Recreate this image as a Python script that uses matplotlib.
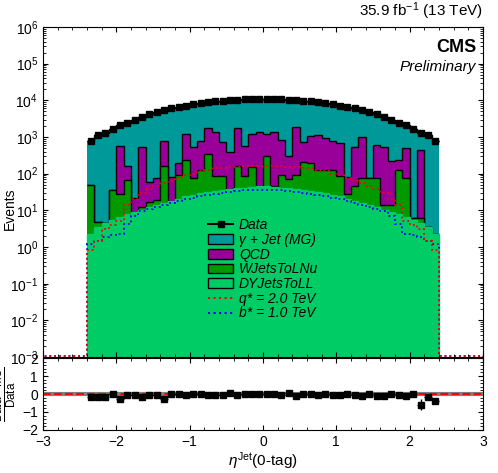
import numpy as np
from matplotlib import pyplot as plt
from matplotlib.patches import Patch
from matplotlib.lines import Line2D

plt.rcParams['font.family'] = ['Liberation Sans', 'DejaVu Sans']
plt.rcParams['mathtext.fontset'] = 'custom'
plt.rcParams['mathtext.rm'] = 'Liberation Sans'
plt.rcParams['mathtext.it'] = 'Liberation Sans:italic'

edges = np.round(np.arange(-2.4, 2.41, 0.1), 2)
centers = 0.5 * (edges[1:] + edges[:-1])

half_data = [800, 1100, 1300, 1700, 2100, 2450, 2950, 3550, 4150, 4800, 5400, 6000,
             6600, 7200, 7800, 8300, 8900, 9300, 9800, 10200, 10500, 10700, 11000, 11000]
data = np.array(half_data + half_data[::-1], dtype=float)

half_dy = [2.3, 3.5, 4.5, 5.5, 6.5, 8, 9, 10, 12, 14, 16, 18,
           21, 24, 27, 30, 32, 34, 36, 38, 40, 42, 44, 46]
dy = np.array(half_dy + half_dy[::-1], dtype=float)

# top of W+jets layer (cumulative) and top of QCD layer (cumulative)
w_top = np.array([50, 4.9, 2.4, 35, 28, 68, 9, 12.6, 17, 19, 166, 15,
                  91, 232, 75, 123, 352, 86, 86, 37, 159, 88, 156, 46,
                  312, 46, 95, 70, 91, 210, 190, 130, 128, 130, 88, 28,
                  46, 75, 75, 75, 14, 14, 123, 75, 6.3, 6.3, 3.5, 1.9])
q_top = np.array([50, 4.9, 3.3, 35, 577, 166, 22, 543, 58, 78, 777, 83,
                  194, 1202, 522, 777, 1718, 1409, 733, 388, 1786, 577, 1202, 1409,
                  1202, 1409, 809, 300, 1897, 733, 1089, 1133, 929, 777, 690, 83,
                  543, 986, 75, 601, 543, 223, 232, 513, 6.3, 446, 3.5, 1.9])

half_q = [0.85, 1.5, 3.2, 4, 5, 14, 20, 30, 38, 45, 55, 65,
          75, 90, 100, 115, 130, 140, 145, 150, 155, 160, 163, 165]
qstar = np.array(half_q + half_q[::-1])
half_b = [1.2, 1.5, 1.9, 2.2, 2.3, 4.3, 7, 9.5, 11, 12.5, 14, 16,
          18, 20, 22, 24, 26, 28, 30, 32, 34, 35, 36, 37]
bstar = np.array(half_b + half_b[::-1])

ratio = np.array([-0.15, -0.15, -0.15, -0.02, -0.3, -0.03, -0.03, -0.15, -0.03, -0.03,
                  -0.25, 0.02, 0.02, -0.08, 0.02, 0.02, -0.06, -0.06, -0.03, 0.05,
                  -0.07, 0, -0.02, 0, -0.02, -0.02, -0.05, 0.05, -0.12, 0,
                  0, -0.03, 0, -0.05, -0.03, 0, -0.07, -0.1, 0, -0.12,
                  -0.12, 0.02, -0.03, -0.1, 0.02, -0.6, -0.15, -0.4])
ratio_err = np.full(48, 0.04)
ratio_err[[4, 10]] = 0.12
ratio_err[45] = 0.3
ratio_err[47] = 0.06

w_top = np.maximum(w_top, dy)
q_top = np.maximum(q_top, w_top)

fig = plt.figure(figsize=(4.98, 4.73), dpi=100)
ax = fig.add_axes([0.0863, 0.245, 0.8835, 0.698])
rx = fig.add_axes([0.0863, 0.091, 0.8835, 0.152], sharex=ax)

def stepfill(a, top, bottom, color):
    a.stairs(top, edges, baseline=bottom, fill=True, color=color)
    a.stairs(top, edges, baseline=None, color='black', lw=1)

bot = 1e-3
stepfill(ax, data, q_top, '#009999')
stepfill(ax, q_top, w_top, '#990099')
stepfill(ax, w_top, dy, '#009900')
ax.stairs(dy, edges, baseline=bot, fill=True, color='#00cc66')
ax.stairs(dy, edges, baseline=bot, color='#00cc66', lw=1)

full_edges = np.concatenate([[-3.0], edges, [3.0]])
ax.stairs(np.concatenate([[1.1e-3], bstar, [1.1e-3]]), full_edges, color='blue', ls=':', lw=1.3)
ax.stairs(np.concatenate([[1.1e-3], qstar, [1.1e-3]]), full_edges, color='red', ls=':', lw=1.3)

ax.errorbar(centers, data, xerr=0.05, yerr=np.sqrt(data), fmt='s', color='black',
            ms=4, lw=1, capsize=0)

ax.set_yscale('log')
ax.set_ylim(1e-3, 1e6)
ax.set_xlim(-3, 3)
ax.tick_params(which='both', direction='in', top=True, right=True, labelbottom=False, labelsize=10)
ax.set_ylabel('Events', fontsize=10)
ax.yaxis.set_label_coords(-0.06, 0.45)
ax.text(0.985, 0.965, 'CMS', transform=ax.transAxes, ha='right', va='top',
        fontsize=13, fontweight='bold')
ax.text(0.985, 0.9, 'Preliminary', transform=ax.transAxes, ha='right', va='top',
        fontsize=11, style='italic')
fig.text(0.97, 0.953, r'35.9 fb$^{-1}$ (13 TeV)', ha='right', va='bottom', fontsize=11)

handles = [Line2D([], [], color='black', marker='s', ms=4),
           Patch(fc='#009999', ec='black'), Patch(fc='#990099', ec='black'),
           Patch(fc='#009900', ec='black'), Patch(fc='#00cc66', ec='black'),
           Line2D([], [], color='red', ls=':'), Line2D([], [], color='blue', ls=':')]
labels = ['Data', '\u03b3 + Jet (MG)', 'QCD', 'WJetsToLNu', 'DYJetsToLL',
          'q* = 2.0 TeV', 'b* = 1.0 TeV']
leg = ax.legend(handles, labels, loc='lower left', bbox_to_anchor=(0.36, 0.09),
                frameon=False, fontsize=10, handlelength=1.8, labelspacing=0.05,
                borderpad=0, handletextpad=0.4)
for t in leg.get_texts():
    t.set_style('italic')

rx.axhline(0, color='gray', lw=3)
rx.axhline(0, color='red', ls='--', lw=1.5)
rx.errorbar(centers, ratio, xerr=0.05, yerr=ratio_err, fmt='s', color='black',
            ms=4, lw=1, capsize=0)
rx.set_ylim(-2, 2)
rx.set_yticks([-2, -1, 0, 1, 2])
rx.set_xticks([-3, -2, -1, 0, 1, 2, 3])
rx.minorticks_on()
rx.tick_params(which='both', direction='in', top=True, right=True, labelsize=10)
rx.set_ylabel(r'$\frac{\mathrm{Data-MC}}{\mathrm{Data}}$', fontsize=12)
rx.yaxis.set_label_coords(-0.055, 0.5)
rx.set_xlabel(r'$\eta^{\mathrm{Jet}}$(0-tag)', fontsize=11, labelpad=1)

fig.savefig('out.png', dpi=100)
